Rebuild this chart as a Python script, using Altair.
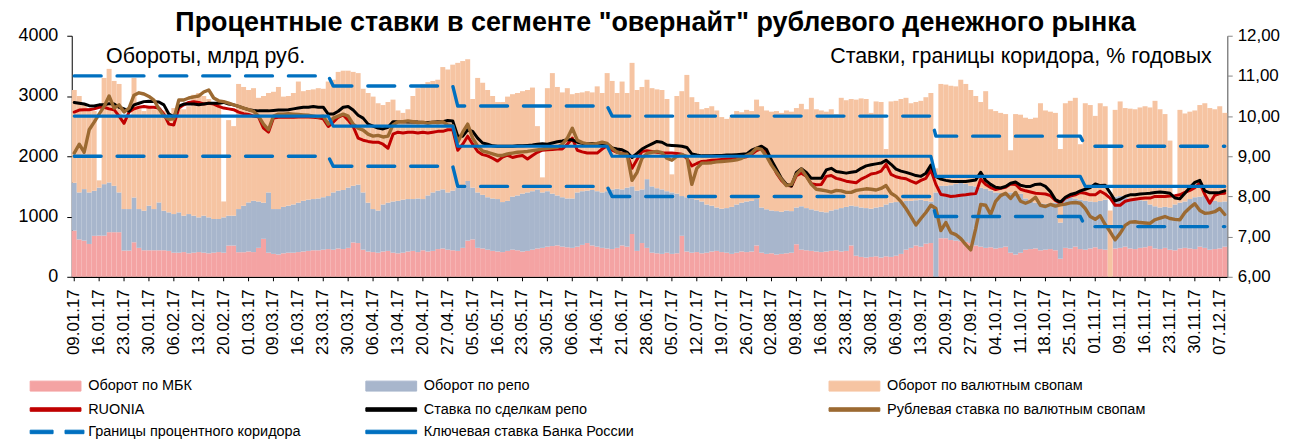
import altair as alt
import pandas as pd

FONT = "Liberation Sans"

# ---- trading days (Russian market calendar 2017) ----
holidays = ["2017-02-23", "2017-02-24", "2017-03-08", "2017-05-01", "2017-05-08",
            "2017-05-09", "2017-06-12", "2017-11-06"]
trade_days = pd.bdate_range("2017-01-09", "2017-12-08", freq="C", holidays=holidays)
dates = [d.strftime("%d.%m.%y") for d in trade_days]

tick_labels = ["09.01.17", "16.01.17", "23.01.17", "30.01.17", "06.02.17", "13.02.17", "20.02.17",
               "01.03.17", "09.03.17", "16.03.17", "23.03.17", "30.03.17", "06.04.17", "13.04.17",
               "20.04.17", "27.04.17", "05.05.17", "16.05.17", "23.05.17", "30.05.17", "06.06.17",
               "14.06.17", "21.06.17", "28.06.17", "05.07.17", "12.07.17", "19.07.17", "26.07.17",
               "02.08.17", "09.08.17", "16.08.17", "23.08.17", "30.08.17", "06.09.17", "13.09.17",
               "20.09.17", "27.09.17", "04.10.17", "11.10.17", "18.10.17", "25.10.17", "01.11.17",
               "09.11.17", "16.11.17", "23.11.17", "30.11.17", "07.12.17"]

# ---- turnover, bln rub: top of each stacked segment ----
mbk_top = [
    766, 620, 600, 545, 680, 683, 683, 740, 740, 740,
    435, 435, 573, 480, 440, 440, 440, 440, 440, 430,
    400, 400, 410, 390, 400, 410, 400, 390, 400, 410,
    400, 518, 518, 408, 408, 420, 410, 480, 630, 400,
    380, 370, 390, 400, 400, 410, 420, 430, 440, 440,
    450, 460, 450, 470, 460, 480, 570, 560, 450, 420,
    410, 400, 420, 430, 400, 390, 400, 420, 430, 410,
    440, 420, 430, 460, 470, 450, 440, 430, 480, 600,
    620, 480, 470, 450, 430, 420, 410, 430, 450, 440,
    420, 430, 450, 470, 480, 500, 510, 520, 500, 490,
    480, 500, 530, 560, 520, 500, 480, 470, 460, 480,
    520, 500, 710, 430, 560, 480, 400, 390, 380, 400,
    380, 390, 680, 420, 400, 410, 390, 400, 420, 430,
    410, 400, 380, 400, 420, 410, 420, 520, 400, 380,
    390, 370, 380, 390, 400, 540, 450, 440, 430, 420,
    410, 420, 430, 440, 420, 430, 520, 350, 330, 320,
    330, 340, 320, 340, 330, 350, 380, 450, 480, 520,
    500, 550, 560, 0, 640, 640, 610, 600, 590, 580,
    560, 520, 500, 480, 490, 470, 480, 500, 400, 370,
    400, 450, 460, 470, 440, 450, 460, 440, 300, 480,
    470, 500, 460, 450, 470, 490, 460, 450, 0, 470,
    480, 500, 470, 460, 480, 490, 510, 470, 460, 480,
    450, 440, 470, 480, 470, 460, 500, 480, 450, 460,
    470, 500]

repo_top = [
    1560, 1400, 1455, 1400, 1427, 1480, 1537, 1565, 1510, 1400,
    1124, 1124, 1316, 1124, 1096, 1179, 1124, 1234, 1096, 1069,
    1041, 1069, 1014, 1041, 1014, 986, 1014, 986, 959, 959,
    986, 1014, 1014, 1124, 1179, 1234, 1261, 1250, 1230, 1400,
    1124, 1124, 1160, 1180, 1200, 1230, 1260, 1280, 1290, 1300,
    1320, 1340, 1400, 1430, 1440, 1480, 1510, 1530, 1400, 1230,
    1124, 1100, 1200, 1230, 1250, 1260, 1280, 1290, 1290, 1300,
    1290, 1350, 1400, 1430, 1450, 1400, 1430, 1480, 1520, 1590,
    1480, 1400, 1360, 1320, 1300, 1290, 1240, 1260, 1330, 1350,
    1380, 1400, 1420, 1450, 1400, 1420, 1380, 1350, 1320, 1300,
    1300, 1400, 1420, 1430, 1440, 1420, 1400, 1420, 1450, 1460,
    1450, 1480, 1500, 1430, 1450, 1620, 1500, 1470, 1450, 1420,
    1400, 1380, 1340, 1320, 1300, 1280, 1250, 1200, 1180, 1150,
    1130, 1140, 1160, 1200, 1230, 1250, 1260, 1290, 1150, 1120,
    1100, 1090, 1080, 1100, 1090, 1150, 1170, 1140, 1120, 1100,
    1080, 1070, 1100, 1120, 1140, 1160, 1180, 1170, 1150, 1140,
    1130, 1150, 1160, 1200, 1230, 1240, 1250, 1260, 1260, 1270,
    1280, 1260, 1250, 1400, 1510, 1510, 1520, 1540, 1560, 1540,
    1510, 1500, 1480, 1460, 1430, 1400, 1390, 1380, 1400, 1380,
    1380, 1300, 1250, 1230, 1220, 1210, 1220, 1230, 900, 1300,
    1320, 1300, 1280, 1260, 1250, 1240, 1260, 1280, 0, 1330,
    1340, 1310, 1300, 1280, 1270, 1260, 1200, 1170, 1150, 1160,
    1150, 1200, 1230, 1250, 1290, 1320, 1330, 1350, 1300, 1260,
    1240, 1250]

total_top = [
    3100, 3000, 2880, 2800, 2750, 1600, 3300, 3450, 3250, 3200,
    2680, 2650, 3300, 2780, 2750, 2800, 2780, 2800, 2760, 2720,
    2800, 2850, 2780, 2830, 3020, 3050, 3000, 2950, 2900, 2880,
    1250, 2600, 2500, 3200, 3150, 3100, 3130, 2970, 3000, 3050,
    3070, 3150, 2990, 3000, 3050, 3240, 3080, 3100, 3110, 3130,
    3120, 3240, 3270, 3400, 3420, 3420, 3400, 3380, 3120, 3050,
    2990, 2880, 2850, 2900, 2940, 2760, 2720, 2780, 3000, 3130,
    3200, 3230, 3250, 3270, 3480, 3440, 3520, 3550, 3580, 3610,
    2950, 3300, 3220, 3100, 3000, 2900, 2900, 2990, 3030, 3050,
    3080, 3100, 3140, 2500, 1650, 3130, 3380, 3150, 3060, 3130,
    3030, 3050, 3060, 3080, 3060, 3160, 3050, 3380, 3250, 3050,
    3240, 3050, 3550, 3100, 3150, 3270, 3130, 3110, 3100, 2950,
    1700, 3000, 3080, 3350, 2980, 2900, 2780, 2800, 2830, 2760,
    2650, 2620, 2650, 2750, 2730, 2770, 2750, 2940, 2830, 2760,
    2740, 2750, 2720, 2760, 2740, 2800, 2870, 2780, 2970, 2780,
    2760, 2740, 2780, 2700, 2970, 2930, 2950, 2940, 2960, 2950,
    2720, 2910, 2900, 2120, 2910, 2920, 2950, 2970, 2880, 2900,
    2920, 2980, 3050, 1800, 3200, 3190, 3170, 3160, 3270, 3200,
    3100, 3000, 2900, 3080, 2780, 2750, 2720, 2700, 2100, 2700,
    2690, 2640, 2620, 2640, 2880, 2760, 2740, 2720, 2120, 2880,
    2920, 2970, 2200, 2880, 2850, 2670, 2880, 2830, 1100, 2770,
    2910, 2800, 2790, 2780, 2810, 2830, 2810, 2920, 2780, 2700,
    2260, 1340, 2770, 2710, 2740, 2760, 2850, 2880, 2800, 2780,
    2830, 2720]

# ---- rates, % p.a. ----
ruonia = [
    10.10, 10.15, 10.16, 10.16, 10.18, 10.22, 10.22, 10.18, 10.16, 10.00,
    9.82, 10.10, 10.18, 10.22, 10.24, 10.22, 10.22, 10.20, 10.05, 9.80,
    9.78, 10.20, 10.28, 10.34, 10.36, 10.34, 10.30, 10.32, 10.30, 10.24,
    10.20, 10.18, 10.16, 10.10, 10.06, 10.04, 10.00, 9.98, 9.70, 9.60,
    9.95, 9.97, 9.97, 9.97, 9.97, 9.98, 9.98, 9.98, 9.97, 9.96,
    9.93, 9.74, 9.85, 9.97, 10.03, 9.90, 9.74, 9.45, 9.40, 9.37,
    9.35, 9.35, 9.30, 9.20, 9.55, 9.60, 9.58, 9.60, 9.60, 9.58,
    9.60, 9.58, 9.60, 9.62, 9.62, 9.66, 9.66, 9.15, 9.30, 9.50,
    9.30, 9.12, 9.04, 9.01, 8.95, 8.88, 8.98, 9.03, 8.97, 9.00,
    9.02, 8.93, 9.02, 9.10, 9.15, 9.16, 9.17, 9.18, 9.18, 9.30,
    9.45, 9.15, 9.11, 9.08, 9.08, 9.08, 9.18, 9.26, 9.15, 9.10,
    9.07, 9.05, 8.70, 8.92, 9.12, 9.14, 9.12, 9.10, 9.08, 9.08,
    9.08, 9.07, 9.05, 8.95, 8.76, 8.82, 8.87, 8.88, 8.90, 8.91,
    8.92, 8.93, 8.94, 8.95, 8.97, 8.99, 9.05, 9.14, 9.19, 9.10,
    8.85, 8.58, 8.40, 8.28, 8.26, 8.52, 8.58, 8.50, 8.32, 8.29,
    8.30, 8.50, 8.52, 8.45, 8.42, 8.38, 8.36, 8.34, 8.43, 8.49,
    8.56, 8.58, 8.63, 8.80, 8.55, 8.49, 8.46, 8.44, 8.38, 8.33,
    8.40, 8.45, 8.66, 8.30, 8.05, 8.03, 8.00, 8.01, 8.03, 8.04,
    8.06, 8.07, 8.43, 8.30, 8.22, 8.17, 8.20, 8.23, 8.31, 8.30,
    8.18, 8.14, 8.11, 8.08, 8.07, 8.06, 8.02, 7.90, 7.83, 7.96,
    8.01, 8.04, 8.10, 8.08, 8.04, 8.04, 8.13, 8.06, 7.96, 7.78,
    7.78, 7.88, 7.91, 7.93, 7.95, 7.96, 7.96, 8.00, 8.00, 8.00,
    8.01, 8.02, 8.04, 8.10, 8.15, 8.22, 8.33, 8.05, 7.83, 8.03,
    8.07, 8.08]

repo_rate = [
    10.34, 10.32, 10.30, 10.26, 10.25, 10.28, 10.28, 10.31, 10.30, 10.22,
    10.18, 10.12, 10.28, 10.32, 10.36, 10.37, 10.36, 10.35, 10.28, 10.05,
    9.98, 10.25, 10.30, 10.30, 10.30, 10.28, 10.30, 10.32, 10.32, 10.32,
    10.34, 10.30, 10.28, 10.24, 10.20, 10.16, 10.14, 10.13, 10.13, 10.13,
    10.14, 10.15, 10.15, 10.16, 10.18, 10.20, 10.22, 10.22, 10.24, 10.22,
    10.22, 10.05, 10.05, 10.12, 10.22, 10.24, 10.15, 10.02, 9.95, 9.80,
    9.75, 9.70, 9.68, 9.72, 9.86, 9.86, 9.86, 9.85, 9.85, 9.85,
    9.84, 9.84, 9.85, 9.86, 9.86, 9.89, 9.88, 9.50, 9.50, 9.66,
    9.62, 9.45, 9.33, 9.30, 9.26, 9.25, 9.25, 9.25, 9.25, 9.26,
    9.26, 9.27, 9.28, 9.30, 9.31, 9.30, 9.33, 9.36, 9.38, 9.41,
    9.41, 9.35, 9.32, 9.32, 9.32, 9.32, 9.32, 9.30, 9.21, 9.18,
    9.16, 9.10, 8.97, 9.07, 9.18, 9.25, 9.31, 9.37, 9.35, 9.28,
    9.27, 9.26, 9.25, 9.22, 9.06, 9.03, 9.01, 9.01, 9.01, 9.02,
    9.02, 9.03, 9.03, 9.04, 9.05, 9.06, 9.15, 9.20, 9.25, 9.17,
    8.90, 8.68, 8.45, 8.30, 8.26, 8.60, 8.69, 8.60, 8.45, 8.45,
    8.45, 8.66, 8.70, 8.62, 8.60, 8.58, 8.60, 8.62, 8.70, 8.76,
    8.79, 8.81, 8.83, 8.90, 8.80, 8.68, 8.63, 8.60, 8.56, 8.52,
    8.50, 8.58, 8.78, 8.50, 8.43, 8.40, 8.38, 8.37, 8.37, 8.37,
    8.39, 8.41, 8.60, 8.40, 8.30, 8.23, 8.21, 8.25, 8.33, 8.36,
    8.28, 8.25, 8.25, 8.30, 8.31, 8.25, 8.12, 7.92, 7.86, 7.98,
    8.05, 8.08, 8.14, 8.18, 8.22, 8.31, 8.27, 8.28, 8.09, 7.89,
    7.93, 8.00, 8.04, 8.04, 8.06, 8.07, 8.08, 8.10, 8.11, 8.10,
    8.08, 7.96, 7.94, 8.08, 8.22, 8.35, 8.40, 8.14, 8.09, 8.09,
    8.10, 8.14]

swap_rate = [
    9.08, 9.30, 9.10, 9.66, 9.85, 10.05, 10.24, 10.50, 10.20, 10.28,
    10.10, 10.20, 10.52, 10.58, 10.55, 10.49, 10.40, 10.18, 10.00, 9.92,
    9.93, 10.40, 10.40, 10.45, 10.48, 10.50, 10.60, 10.65, 10.45, 10.38,
    10.36, 10.32, 10.28, 10.24, 10.20, 10.16, 10.12, 10.00, 9.80, 9.66,
    10.00, 10.05, 10.05, 10.06, 10.05, 10.04, 10.03, 10.02, 10.00, 9.98,
    10.00, 9.80, 9.95, 10.00, 10.05, 10.00, 9.80, 9.70, 9.65, 9.55,
    9.50, 9.52, 9.48, 9.50, 9.78, 9.86, 9.86, 9.88, 9.86, 9.84,
    9.85, 9.82, 9.85, 9.84, 9.86, 9.78, 9.76, 9.35, 9.60, 9.80,
    9.45, 9.25, 9.13, 9.10, 9.06, 9.02, 9.02, 9.06, 9.08, 9.10,
    9.11, 9.12, 9.14, 9.16, 9.18, 9.20, 9.21, 9.22, 9.30, 9.45,
    9.70, 9.40, 9.34, 9.31, 9.30, 9.32, 9.35, 9.32, 9.20, 9.10,
    9.06, 9.05, 8.40, 8.60, 8.95, 9.07, 9.10, 9.12, 9.09, 8.95,
    8.90, 9.00, 9.04, 9.00, 8.30, 8.70, 8.83, 8.83, 8.84, 8.86,
    8.87, 8.88, 8.89, 8.91, 8.95, 9.02, 9.08, 9.20, 9.17, 9.00,
    8.78, 8.60, 8.43, 8.27, 8.30, 8.55, 8.68, 8.50, 8.30, 8.18,
    8.16, 8.14, 8.11, 8.15, 8.14, 8.10, 8.10, 8.15, 8.17, 8.19,
    8.18, 8.16, 8.20, 8.27, 8.08, 8.00, 7.87, 7.70, 7.50, 7.29,
    7.45, 7.60, 7.78, 7.70, 7.15, 7.35, 7.10, 7.05, 6.95, 6.80,
    6.67, 7.20, 7.80, 7.78, 7.55, 7.88, 8.02, 8.08, 7.95, 8.10,
    7.88, 7.83, 7.88, 7.98, 7.78, 7.75, 7.80, 7.76, 7.79, 7.81,
    7.84, 7.85, 7.83, 7.70, 7.50, 7.43, 7.52, 7.30, 7.12, 6.92,
    7.08, 7.28, 7.36, 7.37, 7.35, 7.34, 7.33, 7.42, 7.46, 7.50,
    7.45, 7.43, 7.42, 7.60, 7.72, 7.82, 7.65, 7.58, 7.59, 7.62,
    7.70, 7.55]

key_rate = [10.00] * 52 + [9.75] * 25 + [9.25] * 31 + [9.00] * 65 + [8.50] * 30 + [8.25] * 29
corridor_up = [11.00] * 52 + [10.75] * 25 + [10.25] * 31 + [10.00] * 65 + [9.50] * 30 + [9.25] * 29
corridor_low = [9.00] * 52 + [8.75] * 25 + [8.25] * 31 + [8.00] * 65 + [7.50] * 30 + [7.25] * 29

n = len(dates)
for arr in (mbk_top, repo_top, total_top, ruonia, repo_rate, swap_rate, key_rate, corridor_up, corridor_low):
    assert len(arr) == n, (len(arr), n)

df = pd.DataFrame({
    "date": dates, "mbk_top": mbk_top, "repo_top": repo_top, "total_top": total_top,
    "ruonia": ruonia, "repo_rate": repo_rate, "swap_rate": swap_rate,
    "key_rate": key_rate, "corridor_up": corridor_up, "corridor_low": corridor_low,
})

# ---- styles ----
C_MBK = "#F4A3A3"
C_REPO = "#A8B6CC"
C_SWAP = "#F6C4A2"
C_RUONIA = "#C00000"
C_REPO_RATE = "#000000"
C_SWAP_RATE = "#9C6A32"
C_KEY = "#0070C0"

W, H = 1160, 242

xenc = alt.X("date:O",
             scale=alt.Scale(domain=dates, paddingInner=0, paddingOuter=0),
             axis=alt.Axis(values=tick_labels, labelAngle=-90, labelFont=FONT, labelFontSize=17,
                           labelColor="black", domainColor="black", domainWidth=1.5,
                           tickColor="black", tickSize=4, labelPadding=8, title=None))

yl_scale = alt.Scale(domain=[0, 4000], nice=False)
yr_scale = alt.Scale(domain=[6, 12], nice=False, zero=False)

yl_axis = alt.Axis(orient="left", values=[0, 1000, 2000, 3000, 4000], format="d", grid=False,
                   labelFont=FONT, labelFontSize=18, labelColor="black", labelPadding=9,
                   domainColor="black", tickColor="black", tickSize=5,
                   title="Обороты, млрд руб.", titleAngle=0, titleAlign="left",
                   titleBaseline="middle", titleX=34, titleY=21, titleFont=FONT,
                   titleFontSize=21.5, titleFontWeight="normal", titleColor="black")
yr_axis = alt.Axis(orient="right", values=[6, 7, 8, 9, 10, 11, 12], grid=False,
                   labelExpr="replace(format(datum.value, '.2f'), '.', ',')",
                   labelFont=FONT, labelFontSize=17, labelColor="black", labelPadding=5,
                   domainColor="#868686", domainWidth=1.5, tickColor="#868686", tickSize=5,
                   title="Ставки,  границы коридора, % годовых", titleAngle=0, titleAlign="right",
                   titleBaseline="middle", titleX=-16, titleY=21, titleFont=FONT,
                   titleFontSize=21.5, titleFontWeight="normal", titleColor="black")

base = alt.Chart(df)

bar_swap = base.mark_bar(color=C_SWAP).encode(
    x=xenc, y=alt.Y("repo_top:Q", scale=yl_scale, axis=yl_axis), y2="total_top:Q")
bar_repo = base.mark_bar(color=C_REPO).encode(
    x=xenc, y=alt.Y("mbk_top:Q", scale=yl_scale, axis=yl_axis), y2="repo_top:Q")
bar_mbk = base.mark_bar(color=C_MBK).encode(
    x=xenc, y=alt.Y("mbk_top:Q", scale=yl_scale, axis=yl_axis))
bars = alt.layer(bar_mbk, bar_repo, bar_swap)


def rate_line(field, color, width=3.0, dash=None):
    kw = dict(color=color, strokeWidth=width, strokeJoin="round", strokeCap="round")
    if dash is not None:
        kw["strokeDash"] = dash
    return base.mark_line(**kw).encode(
        x=xenc, y=alt.Y(f"{field}:Q", scale=yr_scale, axis=yr_axis))


lines = alt.layer(
    rate_line("ruonia", C_RUONIA),
    rate_line("repo_rate", C_REPO_RATE),
    rate_line("swap_rate", C_SWAP_RATE, 3.4),
    rate_line("corridor_up", C_KEY, 3.4, [27, 16]),
    rate_line("corridor_low", C_KEY, 3.4, [27, 16]),
    rate_line("key_rate", C_KEY, 3.2),
)

# ---- legend (three columns) ----
BAR_SYM = "M-1,-1H9.2V1H-1Z"
LINE_SYM = "M-1,-0.35H9.2V0.35H-1Z"
DASH_SYM = "M-1,-0.35H3.6V0.35H-1Z M6,-0.35H9.8V0.35H6Z"

leg1_items = ["Оборот по МБК", "RUONIA", "Границы процентного коридора"]
leg2_items = ["Оборот по  репо", "Ставка по сделкам репо", "Ключевая ставка Банка России"]
leg3_items = ["Оборот по валютным свопам", "Рублевая ставка по валютным свопам"]

LEG_Y = 344.5


def legend_layer(items, colors, shapes, lx):
    # the legend's own marks are sub-pixel and hidden beneath the bars
    d = pd.DataFrame({"item": items})
    leg = alt.Legend(orient="none", legendX=lx, legendY=LEG_Y, title=None,
                     labelFont=FONT, labelFontSize=14.5, labelColor="black", labelOffset=46,
                     labelLimit=0, symbolSize=100, symbolStrokeWidth=1, symbolOpacity=1,
                     rowPadding=7.5, padding=0, direction="vertical")
    return alt.Chart(d).mark_point(filled=True, size=0.0001, strokeWidth=0).encode(
        x=alt.value(8), y=alt.value(228),
        color=alt.Color("item:N", scale=alt.Scale(domain=items, range=colors), legend=leg),
        stroke=alt.Stroke("item:N", scale=alt.Scale(domain=items, range=colors), legend=leg),
        shape=alt.Shape("item:N", scale=alt.Scale(domain=items, range=shapes), legend=leg),
    )


leg1 = legend_layer(leg1_items, [C_MBK, C_RUONIA, C_KEY], [BAR_SYM, LINE_SYM, DASH_SYM], -44)
leg2 = legend_layer(leg2_items, [C_REPO, C_REPO_RATE, C_KEY], [BAR_SYM, LINE_SYM, LINE_SYM], 293)
leg3 = legend_layer(leg3_items, [C_SWAP, C_SWAP_RATE], [BAR_SYM, LINE_SYM], 758)

chart = alt.layer(leg1, leg2, leg3, bars, lines).resolve_scale(
    y="independent", color="independent", shape="independent", stroke="independent"
).properties(
    width=W, height=H,
    title=alt.TitleParams(
        "Процентные ставки в сегменте \"овернайт\" рублевого денежного рынка",
        font=FONT, fontSize=27, fontWeight="bold", color="black", anchor="middle",
        offset=-10, dx=6),
    padding={"left": 9, "top": 0, "right": 5, "bottom": 0},
).configure_view(stroke=None)

chart.save("out.html", embed_options={"renderer": "svg", "actions": False})
